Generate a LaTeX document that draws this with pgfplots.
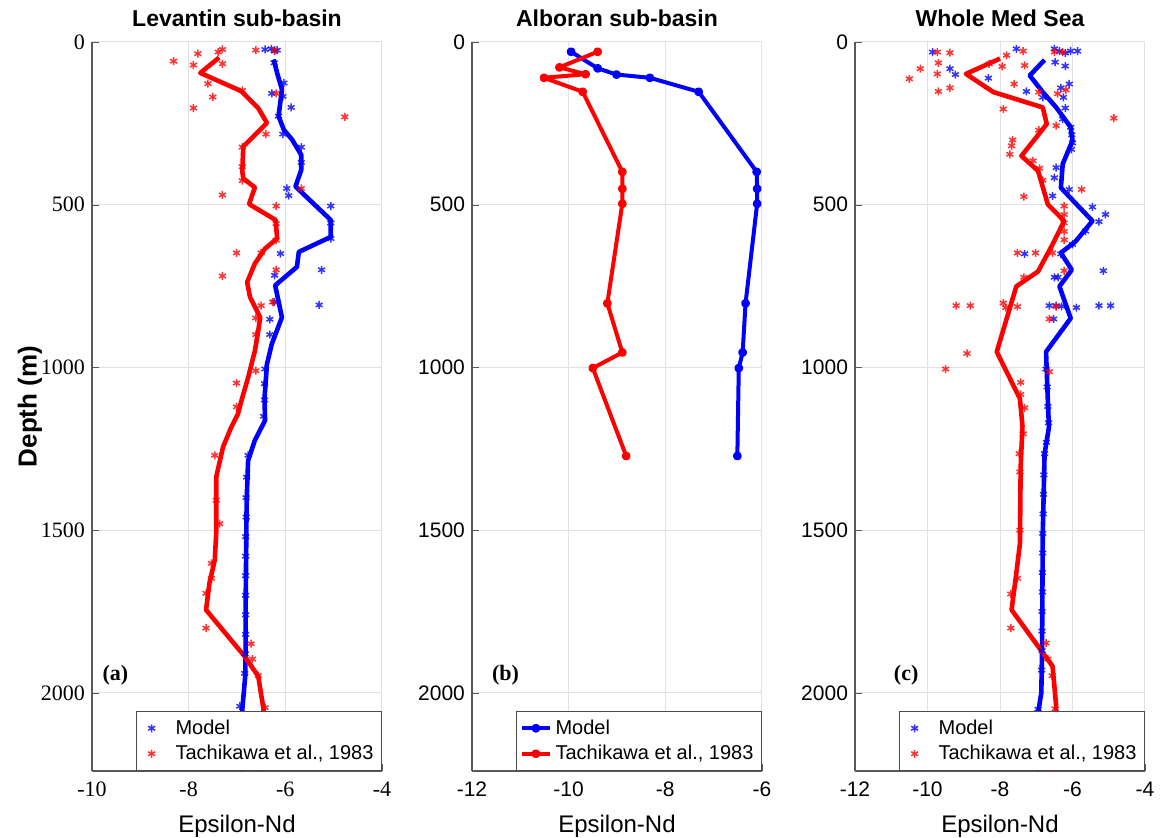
\documentclass[border=0pt]{standalone}
\usepackage{fontspec}
\setmainfont{Liberation Sans}
\newfontfamily\tnr{Liberation Serif}
\usepackage{pgfplots}
\pgfplotsset{compat=1.18}
\definecolor{mblue}{RGB}{0,0,255}
\definecolor{mred}{RGB}{255,0,0}
\pgfplotsset{
  medaxis/.style={
    scale only axis, width=145pt, height=364.5pt,
    y dir=reverse, ymin=0, ymax=2240,
    ytick={0,500,1000,1500,2000}, yticklabels={0,500,1000,1500,2000},
    grid=major, grid style={black!12, line width=0.5pt},
    axis x line*=bottom, axis y line*=left,
    axis line style={black!65, line width=0.6pt},
    tick align=inside, major tick length=3.5pt,
    tick style={black!65},
    tick label style={font=\fontsize{10.5}{12}\selectfont},
    xticklabel style={yshift=-2pt},
    /pgf/number format/assume math mode=true,
    xlabel={Epsilon-Nd},
    xlabel style={at={(0.5,0)}, anchor=base, yshift=-31pt, font=\fontsize{12}{14}\selectfont},
    every axis title shift=0pt,
    title style={at={(0.5,1)}, anchor=base, yshift=7.5pt, font=\bfseries\fontsize{11.5}{13}\selectfont},
    legend style={at={(1,0)}, anchor=south east, draw=black!70, line width=0.5pt,
      font=\fontsize{10}{13}\selectfont, inner xsep=2pt, inner ysep=2pt,
      row sep=0pt},
    legend cell align=left,
  },
  scat/.style={only marks, mark=asterisk, mark size=2pt, line width=0.75pt, opacity=0.8},
  prof/.style={line width=2.3pt, no marks, line join=round},
  astleg/.style={legend image code/.code={\path[draw=none,fill=none] (0cm,-0.05cm) rectangle (0.55cm,0.05cm);\draw[only marks, mark=asterisk, mark size=2pt, line width=0.75pt] plot coordinates {(0.2cm,0cm)};}},
}
\begin{document}
\begin{tikzpicture}
\useasboundingbox (-46pt,-33.5pt) rectangle (535.5pt,385.5pt);
% ---------------- (a) ----------------
\begin{axis}[medaxis, at={(0pt,0pt)}, anchor=south west,
  xmin=-10, xmax=-4, xtick={-10,-8,-6,-4}, xticklabels={-10,-8,-6,-4},
  tick label style={font=\tnr\fontsize{11}{12}\selectfont},
  title={Levantin sub-basin}, astleg]
\addplot[scat, mblue] coordinates {
(-6.42,23) (-6.29,21) (-6.17,25) (-6.22,28) (-6.23,64) (-6.03,126) (-6.28,158) (-6.05,167)
(-5.88,201) (-6.14,228) (-6.05,283) (-5.67,323) (-5.67,370) (-5.97,450) (-5.93,472)
(-5.06,504) (-5.06,556) (-5.06,604) (-6.10,650) (-5.25,700) (-6.22,717) (-5.30,808)
(-6.23,799) (-6.32,852) (-6.32,899) (-6.42,1005) (-6.43,1050) (-6.43,1100) (-6.45,1150)
(-6.77,1270) (-6.80,1337) (-6.81,1400) (-6.81,1460) (-6.82,1520) (-6.82,1580) (-6.82,1640)
(-6.82,1700) (-6.82,1760) (-6.82,1820) (-6.83,1880) (-6.84,1940) (-6.94,2041) (-6.91,2230)
};
\addlegendentry{Model}
\addplot[scat, mred] coordinates {
(-7.30,23) (-7.39,31) (-7.81,36) (-6.61,25) (-6.22,26) (-8.31,59) (-7.90,71) (-7.30,67)
(-7.60,128) (-6.89,149) (-7.50,169) (-6.19,158) (-7.90,203) (-4.77,230) (-6.40,283)
(-6.89,323) (-6.89,383) (-6.89,426) (-5.67,450) (-7.30,470) (-6.19,504) (-6.19,558)
(-6.19,609) (-7.01,648) (-6.50,648) (-6.19,700) (-7.30,719) (-6.50,810) (-6.26,799)
(-6.61,848) (-6.61,899) (-6.61,1010) (-7.01,1048) (-7.01,1121) (-7.46,1270) (-7.43,1408)
(-7.36,1480) (-7.53,1602) (-7.53,1648) (-7.64,1694) (-7.64,1801) (-6.71,1849) (-6.68,1896)
(-6.56,1947) (-6.42,2045) (-6.50,2230)
};
\addlegendentry{Tachikawa et al., 1983}
\addplot[prof, mblue, forget plot] coordinates {
(-6.24,54) (-6.17,95) (-6.07,146) (-6.14,228) (-6.03,270) (-5.86,300) (-5.67,347) (-5.67,393)
(-5.79,444) (-5.06,547) (-5.06,599) (-5.72,645) (-5.76,691) (-6.21,748) (-6.07,846) (-6.28,928)
(-6.38,990) (-6.43,1093) (-6.42,1163) (-6.63,1224) (-6.77,1286) (-6.80,1408) (-6.82,1714)
(-6.82,1867) (-6.83,1949) (-6.89,2051) (-6.91,2240)
};
\addplot[prof, mred, forget plot] coordinates {
(-7.37,48) (-7.76,95) (-6.91,151) (-6.56,203) (-6.38,249) (-6.87,321) (-6.89,398) (-6.87,419)
(-6.63,447) (-6.75,498) (-6.20,547) (-6.17,604) (-6.42,635) (-6.63,681) (-6.79,738) (-6.73,784)
(-6.52,846) (-6.56,887) (-6.63,949) (-6.77,1031) (-6.91,1103) (-6.98,1143) (-7.12,1184)
(-7.29,1245) (-7.43,1337) (-7.43,1510) (-7.46,1592) (-7.57,1663) (-7.64,1745) (-6.84,1888)
(-6.56,1949) (-6.45,2051) (-6.50,2240)
};
\node[anchor=west, font=\tnr\bfseries\fontsize{11}{12}\selectfont] at (rel axis cs:0.012,0.132) {(a)};
\end{axis}
\node[rotate=90, font=\bfseries\fontsize{13}{15}\selectfont] at (-31pt,182.25pt) {Depth (m)};
% ---------------- (b) ----------------
\begin{axis}[medaxis, at={(190pt,0pt)}, anchor=south west,
  xmin=-12, xmax=-6, xtick={-12,-10,-8,-6}, xticklabels={-12,-10,-8,-6},
  title={Alboran sub-basin},
  legend style={legend image code/.code={\draw[line width=2pt] (0cm,0cm) -- (0.48cm,0cm); \fill (0.24cm,0cm) circle (1.2pt);}}]
\addplot[mblue, line width=2pt, mark=*, mark size=1.2pt, line join=round] coordinates {
(-9.95,30) (-9.40,81) (-9.01,100) (-8.32,110) (-7.31,153) (-6.11,399) (-6.10,451) (-6.10,497)
(-6.34,803) (-6.40,954) (-6.48,1002) (-6.51,1272)
};
\addlegendentry{Model}
\addplot[mred, line width=2pt, mark=*, mark size=1.2pt, line join=round] coordinates {
(-9.40,30) (-10.19,78) (-9.65,99) (-10.51,110) (-9.71,153) (-8.89,399) (-8.89,451) (-8.89,497)
(-9.20,803) (-8.89,954) (-9.50,1002) (-8.81,1272)
};
\addlegendentry{Tachikawa et al., 1983}
\node[anchor=west, font=\tnr\bfseries\fontsize{11}{12}\selectfont] at (rel axis cs:0.045,0.132) {(b)};
\end{axis}
% ---------------- (c) ----------------
\begin{axis}[medaxis, at={(381.5pt,0pt)}, anchor=south west,
  xmin=-12, xmax=-4, xtick={-12,-10,-8,-6,-4}, xticklabels={-12,-10,-8,-6,-4},
  title={Whole Med Sea}, astleg]
\addplot[scat, mblue] coordinates {
(-9.86,31) (-7.55,21) (-6.50,21) (-6.36,28) (-6.05,28) (-5.86,28) (-6.20,34) (-6.48,62)
(-9.38,82) (-9.23,100) (-8.32,111) (-6.20,74) (-7.27,152) (-6.32,141) (-6.09,129) (-6.25,170)
(-6.82,170) (-6.20,203) (-6.27,237) (-6.05,262) (-6.02,285) (-6.00,310) (-6.03,330)
(-6.45,386) (-6.50,417) (-6.09,453) (-6.55,473) (-5.45,507) (-5.09,530) (-5.27,552)
(-5.64,581) (-6.00,622) (-7.32,651) (-6.32,651) (-5.15,703) (-6.50,723) (-6.40,723)
(-6.64,810) (-6.45,810) (-6.30,812) (-5.89,816) (-5.27,810) (-4.95,810) (-6.52,851)
(-6.73,1005) (-6.70,1060) (-6.68,1120) (-6.66,1170) (-6.72,1230) (-6.77,1265) (-6.79,1330)
(-6.80,1390) (-6.81,1450) (-6.82,1510) (-6.82,1570) (-6.83,1630) (-6.83,1690) (-6.84,1750)
(-6.84,1810) (-6.84,1870) (-6.85,1930) (-6.95,2050) (-6.97,2230)
};
\addlegendentry{Model}
\addplot[scat, mred] coordinates {
(-9.73,31) (-9.38,33) (-9.70,64) (-10.20,82) (-9.73,98) (-10.50,113) (-9.70,152) (-9.38,141)
(-8.30,67) (-7.94,75) (-7.82,41) (-7.36,28) (-7.32,72) (-7.61,129) (-6.93,154) (-7.91,206)
(-6.27,31) (-6.50,31) (-6.41,159) (-6.18,147) (-4.86,234) (-6.45,257) (-6.93,271)
(-7.65,301) (-7.68,319) (-7.73,345) (-7.09,365) (-6.91,388) (-6.82,425) (-5.75,453)
(-7.34,475) (-6.23,504) (-6.23,530) (-6.23,556) (-6.23,582) (-6.23,608) (-7.52,648)
(-7.02,648) (-6.55,648) (-6.23,703) (-7.34,723) (-9.21,810) (-8.82,810) (-7.91,802)
(-7.84,816) (-7.52,813) (-6.45,813) (-6.64,851) (-8.91,957) (-9.50,1005) (-6.64,1013)
(-7.43,1046) (-7.43,1083) (-7.32,1124) (-7.36,1204) (-7.47,1265) (-7.45,1321) (-7.45,1500)
(-7.52,1648) (-7.70,1696) (-7.70,1801) (-6.73,1847) (-6.68,1896) (-6.56,1947) (-6.48,2049)
(-6.55,2230)
};
\addlegendentry{Tachikawa et al., 1983}
\addplot[prof, mblue, forget plot] coordinates {
(-6.77,55) (-7.18,103) (-6.82,154) (-6.45,201) (-6.05,262) (-6.00,303) (-6.27,375) (-6.32,448)
(-5.45,550) (-5.91,612) (-6.32,648) (-6.02,700) (-6.36,751) (-6.05,849) (-6.73,952)
(-6.68,1102) (-6.65,1184) (-6.77,1265) (-6.82,1510) (-6.84,1867) (-6.86,2000) (-6.95,2061)
(-6.97,2240)
};
\addplot[prof, mred, forget plot] coordinates {
(-8.00,51) (-8.94,98) (-8.18,154) (-6.82,201) (-6.71,252) (-7.00,293) (-7.41,350) (-6.95,396)
(-6.68,499) (-6.23,550) (-6.55,622) (-6.95,705) (-7.55,751) (-8.09,952) (-7.45,1096)
(-7.38,1180) (-7.43,1306) (-7.45,1541) (-7.55,1633) (-7.68,1745) (-6.55,1918) (-6.45,2041)
(-6.50,2240)
};
\node[anchor=west, font=\tnr\bfseries\fontsize{11}{12}\selectfont] at (rel axis cs:0.11,0.132) {(c)};
\end{axis}
\end{tikzpicture}
\end{document}
